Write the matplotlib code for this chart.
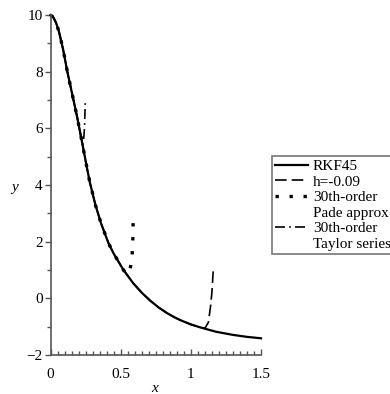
import matplotlib
matplotlib.use("Agg")
import matplotlib.pyplot as plt
from matplotlib import ticker
from matplotlib.lines import Line2D
import numpy as np

# RKF45 reference solution
x_rkf = [0.0, 0.02, 0.04, 0.06, 0.09, 0.12, 0.155, 0.19, 0.228, 0.26, 0.28, 0.32, 0.36,
         0.413, 0.45, 0.52, 0.59, 0.65, 0.71, 0.77, 0.83, 0.88, 0.925, 1.0, 1.07,
         1.18, 1.3, 1.4, 1.5]
y_rkf = [10.0, 9.92, 9.72, 9.42, 8.78, 8.0, 7.2, 6.4, 5.43, 4.6, 4.1, 3.3, 2.65,
         1.95, 1.58, 1.0, 0.53, 0.2, -0.08, -0.32, -0.52, -0.66, -0.77, -0.92, -1.03,
         -1.18, -1.29, -1.36, -1.41]

# fixed-step solution (h=-0.09): tail after it leaves the reference curve
x_h_tail = [1.10, 1.125, 1.14, 1.15, 1.16]
y_h_tail = [-1.06, -0.85, -0.3, 0.2, 1.0]

# 30th-order Pade approximant: tail after it leaves the reference curve
x_pade_tail = [0.54, 0.555, 0.566, 0.58, 0.584, 0.587, 0.588, 0.59]
y_pade_tail = [0.85, 0.9, 1.0, 1.37, 1.75, 2.12, 2.49, 2.9]

# 30th-order Taylor series: tail after it leaves the reference curve
x_taylor_tail = [0.236, 0.242, 0.248]
y_taylor_tail = [5.6, 6.0, 6.95]

x_ticks = [0, 0.5, 1, 1.5]
y_ticks = [-2, 0, 2, 4, 6, 8, 10]

legend_rows = [("RKF45", "solid"), ("h=-0.09", "dash"),
               ("30th-order", "dot"), ("Pade approx", None),
               ("30th-order", "dashdot"), ("Taylor series", None)]


def join(cut, xt, yt):
    xr = np.asarray(x_rkf)
    yr = np.asarray(y_rkf)
    m = xr <= cut
    return np.concatenate([xr[m], xt]), np.concatenate([yr[m], yt])


plt.rcParams["font.family"] = ["Liberation Serif", "DejaVu Serif"]
plt.rcParams["font.size"] = 11

fig = plt.figure(figsize=(3.9, 3.94), dpi=100)
W, H = 390, 394
L, R, T, B = 50.5, 261, 15, 355
ax = fig.add_axes([L / W, 1 - B / H, (R - L) / W, (B - T) / H])

styles = {
    "solid": dict(lw=1.6, ls="-"),
    "dash": dict(lw=1.2, ls=(0, (7, 3))),
    "dot": dict(lw=2.4, ls=(0, (1, 3.2)), dash_capstyle="butt"),
    "dashdot": dict(lw=1.2, ls=(0, (6, 2.5, 1, 2.5))),
}

ax.plot(x_rkf, y_rkf, color="black", clip_on=False, **styles["solid"])
xh, yh = join(1.07, x_h_tail, y_h_tail)
ax.plot(xh, yh, color="black", clip_on=False, **styles["dash"])
xp, yp = join(0.52, x_pade_tail, y_pade_tail)
ax.plot(xp, yp, color="black", clip_on=False, **styles["dot"])
xt, yt = join(0.228, x_taylor_tail, y_taylor_tail)
ax.plot(xt, yt, color="black", clip_on=False, **styles["dashdot"])

ax.set_xlim(0, 1.5)
ax.set_ylim(-2, 10)
for s in ("top", "right"):
    ax.spines[s].set_visible(False)
for s in ("left", "bottom"):
    ax.spines[s].set_color("#555555")
    ax.spines[s].set_linewidth(1.2)

ax.set_xticks(x_ticks)
ax.set_yticks(y_ticks)
ax.xaxis.set_major_formatter(ticker.FuncFormatter(lambda v, p: "%g" % v))
ax.yaxis.set_major_formatter(ticker.FuncFormatter(
    lambda v, p: "%g" % v if v >= 0 else "\u2212%g" % -v))
ax.xaxis.set_minor_locator(ticker.MultipleLocator(0.05))
ax.yaxis.set_minor_locator(ticker.MultipleLocator(1))
ax.tick_params(axis="y", which="major", length=4, width=1, color="#555555",
               direction="out", pad=1.5)
ax.tick_params(axis="y", which="minor", length=3, width=1, color="#555555",
               direction="out")
ax.tick_params(axis="x", which="major", length=4, width=1, color="#555555",
               direction="in", pad=9)
ax.tick_params(axis="x", which="minor", length=3, width=1, color="#555555",
               direction="in")

ax.set_xlabel("x", style="italic")
ax.set_ylabel("y", style="italic", rotation=0, va="center", ha="center")
ax.xaxis.set_label_coords((155 - L) / (R - L), (B - 382) / (B - T))
ax.yaxis.set_label_coords((15 - L) / (R - L), (B - 188) / (B - T))

handles, labels = [], []
for text, kind in legend_rows:
    if kind is None:
        handles.append(Line2D([], [], color="none"))
    else:
        handles.append(Line2D([], [], color="black", **styles[kind]))
    labels.append(text)

leg = fig.legend(handles, labels, loc="upper left",
                 bbox_to_anchor=(272 / W, 1 - 156 / H),
                 frameon=True, fancybox=False, handlelength=2.15, handletextpad=0.3,
                 borderpad=0.22, labelspacing=0.12, borderaxespad=0)
leg.get_frame().set_edgecolor("#555555")
leg.get_frame().set_linewidth(1.2)

fig.savefig("out.png", dpi=100)
